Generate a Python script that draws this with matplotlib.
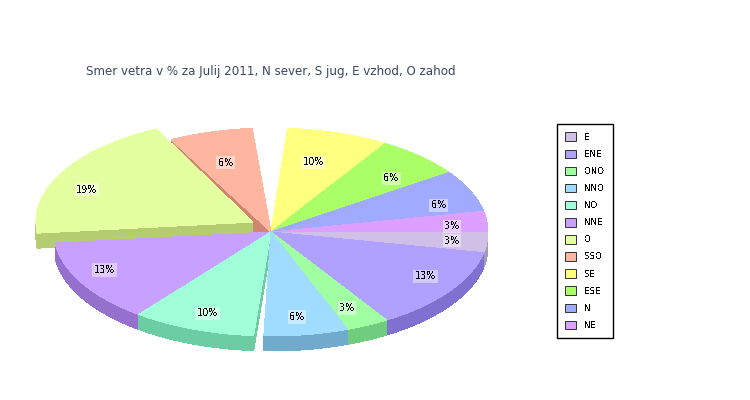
import matplotlib
matplotlib.use("Agg")
import matplotlib.pyplot as plt
from matplotlib.patches import Patch
import numpy as np

# smer vetra, delez v %
names = ["E", "ENE", "ONO", "NNO", "NO", "NNE", "O", "SSO", "SE", "ESE", "N", "NE"]
values = [3.2, 12.9, 3.2, 6.5, 9.7, 12.9, 19.4, 6.5, 9.7, 6.5, 6.5, 3.2]
labels = ["3%", "13%", "3%", "6%", "10%", "13%", "19%", "6%", "10%", "6%", "6%", "3%"]

top_colors = ["#d0c0e8", "#b0a0ff", "#a0ffa0", "#a0dcff", "#a0ffd8", "#c8a0ff",
              "#e4ffa0", "#ffb6a0", "#ffff80", "#abff66", "#a0aaff", "#dda0ff"]
wall_colors = ["#a898c0", "#8070d0", "#70cd80", "#70aacd", "#6ccda5", "#9670cd",
               "#b4cd70", "#cd8770", "#cdcd60", "#88cd50", "#8088cd", "#b080cd"]

# rendering oddities of the original pie
explode = [0, 0, 0, 0, 0, 0, 20.6, 0, 0, 0, 0, 0]
trim_start = [0, 0, 0, 0, 1.9, 0, 0, -1.0, 7.4, 0, 0, 0]
trim_end = [0, 0, 0, -0.8, 0, 0, 0, -1.9, 0, 0, 0, 0]
label_nudge = [(4, 1), (8, 0), (-3, 6), (-2, 8), (-2, 8), (-11, 0),
               (-10, 5), (0, 6), (-2, 6), (-2, 3), (4, 4), (4, 2)]

cx, cy = 271, 232
rx, ry = 217, 104
depth = 15

fig = plt.figure(figsize=(7.5, 4), dpi=100)
ax = fig.add_axes([0, 0, 1, 1])
ax.set_xlim(0, 750)
ax.set_ylim(400, 0)
ax.axis("off")

vals = np.array(values)
ends = np.cumsum(vals) / vals.sum() * 360
starts = np.concatenate([[0], ends[:-1]])
mids = (starts + ends) / 2


def sector(i):
    a = np.radians(np.linspace(starts[i] + trim_start[i], ends[i] + trim_end[i], 80))
    m = np.radians(mids[i])
    x0 = cx + explode[i] * np.cos(m)
    y0 = cy + explode[i] * np.sin(m)
    x = np.concatenate([[x0], x0 + rx * np.cos(a)])
    y = np.concatenate([[y0], y0 + ry * np.sin(a)])
    return x, y


# back to front
order = np.argsort(np.sin(np.radians(mids)))
for n, i in enumerate(order):
    x, y = sector(i)
    for k in range(len(x)):
        j = (k + 1) % len(x)
        ax.fill([x[k], x[j], x[j], x[k]], [y[k], y[j], y[j] + depth, y[k] + depth],
                color=wall_colors[i], lw=0, antialiased=False, zorder=n * 2 + 1)
    ax.fill(x, y + depth, color=wall_colors[i], lw=0, antialiased=False, zorder=n * 2 + 1)
    ax.fill(x, y, color=top_colors[i], lw=0, antialiased=False, zorder=n * 2 + 2)

for i in range(len(values)):
    m = np.radians(mids[i])
    x0 = cx + explode[i] * np.cos(m)
    y0 = cy + explode[i] * np.sin(m)
    lx = x0 + 0.82 * rx * np.cos(m) + label_nudge[i][0]
    ly = y0 + 0.75 * ry * np.sin(m) + label_nudge[i][1]
    ax.text(lx, ly, labels[i], fontsize=7, ha="center", va="center", color="black",
            zorder=100, antialiased=False, bbox=dict(fc="white", ec="none", alpha=0.45, pad=1.2))

ax.text(86, 72, "Smer vetra v % za Julij 2011, N sever, S jug, E vzhod, O zahod",
        fontsize=8.55, color="#3c4660", ha="left", va="center", zorder=100)

handles = [Patch(facecolor=c, edgecolor="#303030", lw=0.7) for c in top_colors]
leg = ax.legend(handles, names, loc="upper left", bbox_to_anchor=(557 / 750, 1 - 124 / 400),
                borderaxespad=0, fontsize=6.2, frameon=True, fancybox=False, framealpha=1,
                edgecolor="black", handlelength=1.2, handleheight=1.15, handletextpad=1.0,
                labelspacing=0.92, borderpad=0.98)
leg.get_frame().set_linewidth(1)
leg.set_zorder(100)
for t in leg.get_texts():
    t.set_antialiased(False)

fig.savefig("out.png", dpi=100)
